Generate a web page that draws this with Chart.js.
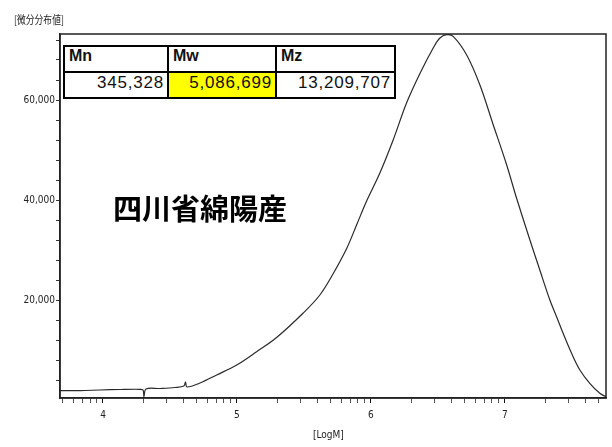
<!DOCTYPE html>
<html>
<head>
<meta charset="utf-8">
<script src="https://cdn.jsdelivr.net/npm/chart.js@4.4.1/dist/chart.umd.min.js"></script>
<style>
  body { margin: 0; background: #fff; }
  #wrap { position: relative; width: 612px; height: 447px; overflow: hidden; }
  #chart { position: absolute; left: 0; top: 0; }
  .cond { position: absolute; white-space: nowrap; color: #222; transform-origin: 0 0; }
  #ytitle { left: 14px; top: 11px; font: 11px "Noto Sans CJK JP", sans-serif; transform: scaleX(0.8); }
  #xtitle { left: 313px; top: 429px; font: 10px "Liberation Sans Narrow", "DejaVu Sans Condensed", sans-serif; }
  #stamp { position: absolute; left: 113px; top: 186px; font: bold 29px "Noto Sans CJK JP", sans-serif; color: #000; white-space: nowrap; }
  #tbl { position: absolute; left: 63px; top: 45px; width: 333px; height: 54px; background: #000; }
  #tbl div { position: absolute; background: #fff; height: 24px; line-height: 25px; box-sizing: border-box; white-space: nowrap; color: #111; }
  #tbl .h { top: 2px; font: bold 16px "Liberation Sans", Arial, sans-serif; padding-left: 4px; }
  #tbl .v { top: 28px; font: 17px "Liberation Sans", Arial, sans-serif; text-align: right; padding-right: 3px; letter-spacing: 0.8px; }
  #tbl .c1 { left: 2px; width: 102px; }
  #tbl .c2 { left: 106px; width: 106px; }
  #tbl .c3 { left: 214px; width: 117px; }
  #tbl .hl { background: #ffff00; }
</style>
</head>
<body>
<div id="wrap">
  <canvas id="chart" width="612" height="447"></canvas>
  <div id="ytitle" class="cond">[微分分布値]</div>
  <div id="xtitle" class="cond">[LogM]</div>
  <div id="stamp">四川省綿陽産</div>
  <div id="tbl">
    <div class="h c1">Mn</div><div class="h c2">Mw</div><div class="h c3">Mz</div>
    <div class="v c1">345,328</div><div class="v c2 hl">5,086,699</div><div class="v c3">13,209,707</div>
  </div>
</div>
<script>
// distribution curve
const logM = [3.679, 3.828, 3.978, 4.127, 4.276, 4.299, 4.306, 4.321, 4.425, 4.537, 4.604, 4.616, 4.627,
  4.724, 4.849, 4.998, 5.147, 5.296, 5.495, 5.619, 5.719, 5.819, 5.893, 5.968, 6.067, 6.166, 6.266,
  6.366, 6.465, 6.515, 6.565, 6.614, 6.714, 6.813, 6.913, 7.013, 7.087, 7.187, 7.261, 7.336,
  7.386, 7.435, 7.498, 7.560, 7.634, 7.709, 7.754];
const dist = [1860, 1880, 2000, 2100, 2140, 2000, 700, 2200, 2300, 2500, 2800, 3600, 2600,
  3400, 5000, 7000, 9660, 12500, 17400, 21000, 25300, 30300, 35000, 39800, 45400, 52000, 59400,
  65300, 70400, 72400, 73060, 72740, 69060, 63060, 55060, 47060, 40400, 32000, 26000, 20000,
  16660, 13340, 9340, 6000, 3340, 1340, 660];

// axes
const xRange = [3.679, 7.755];
const yRange = [400, 73200];
const xDecades = [3, 4, 5, 6, 7];
const xMantissas = [1, 2, 3, 4, 5, 6, 7, 8, 9];
const yTicks = [4000, 8000, 12000, 16000, 20000, 24000, 28000, 32000, 36000, 40000,
  44000, 48000, 52000, 56000, 60000, 64000, 68000, 72000];
const yLabelled = [20000, 40000, 60000];

const tickFont = { family: '"Liberation Sans Narrow", "DejaVu Sans Condensed", sans-serif', size: 10 };

function isWhole(v){ return Math.abs(v - Math.round(v)) < 1e-6; }

const xTicks = [];
xDecades.forEach(d => xMantissas.forEach(m => {
  const v = d + Math.log10(m);
  if (v >= xRange[0] && v <= xRange[1]) xTicks.push(v);
}));

const frame = {
  id: 'frame',
  afterDatasetsDraw(chart) {
    const { ctx, chartArea: a } = chart;
    ctx.save();
    ctx.strokeStyle = '#222';
    ctx.lineWidth = 1.5;
    ctx.strokeRect(a.left, a.top, a.right - a.left, a.bottom - a.top);
    ctx.restore();
  }
};

new Chart(document.getElementById('chart').getContext('2d'), {
  type: 'line',
  data: {
    datasets: [{
      data: logM.map((x, i) => ({ x, y: dist[i] })),
      borderColor: '#2a2a2a',
      borderWidth: 1.2,
      pointRadius: 0,
      fill: false,
      tension: 0.35
    }]
  },
  options: {
    responsive: false,
    animation: false,
    layout: { padding: { top: 34, right: 6, left: 0, bottom: 0 } },
    plugins: { legend: { display: false }, tooltip: { enabled: false } },
    scales: {
      x: {
        type: 'linear', min: xRange[0], max: xRange[1],
        afterBuildTicks: s => { s.ticks = xTicks.map(v => ({ value: v })); },
        afterFit: s => { s.height = 49; },
        grid: { drawOnChartArea: false, tickLength: 5, color: c => (c.tick && isWhole(c.tick.value)) ? '#111' : '#555' },
        border: { color: '#222', width: 1.5 },
        ticks: { autoSkip: false, maxRotation: 0, padding: 6, font: tickFont, color: '#222',
          callback: v => isWhole(v) ? String(Math.round(v)) : '' }
      },
      y: {
        type: 'linear', min: yRange[0], max: yRange[1],
        afterBuildTicks: s => { s.ticks = yTicks.map(v => ({ value: v })); },
        afterFit: s => { s.width = 60; },
        grid: { drawOnChartArea: false, tickLength: 4, color: '#333' },
        border: { color: '#222', width: 1.5 },
        ticks: { autoSkip: false, padding: 1, font: tickFont, color: '#222',
          callback: v => yLabelled.includes(v) ? v.toLocaleString('en-US') : '' }
      }
    }
  },
  plugins: [frame]
});
</script>
</body>
</html>
